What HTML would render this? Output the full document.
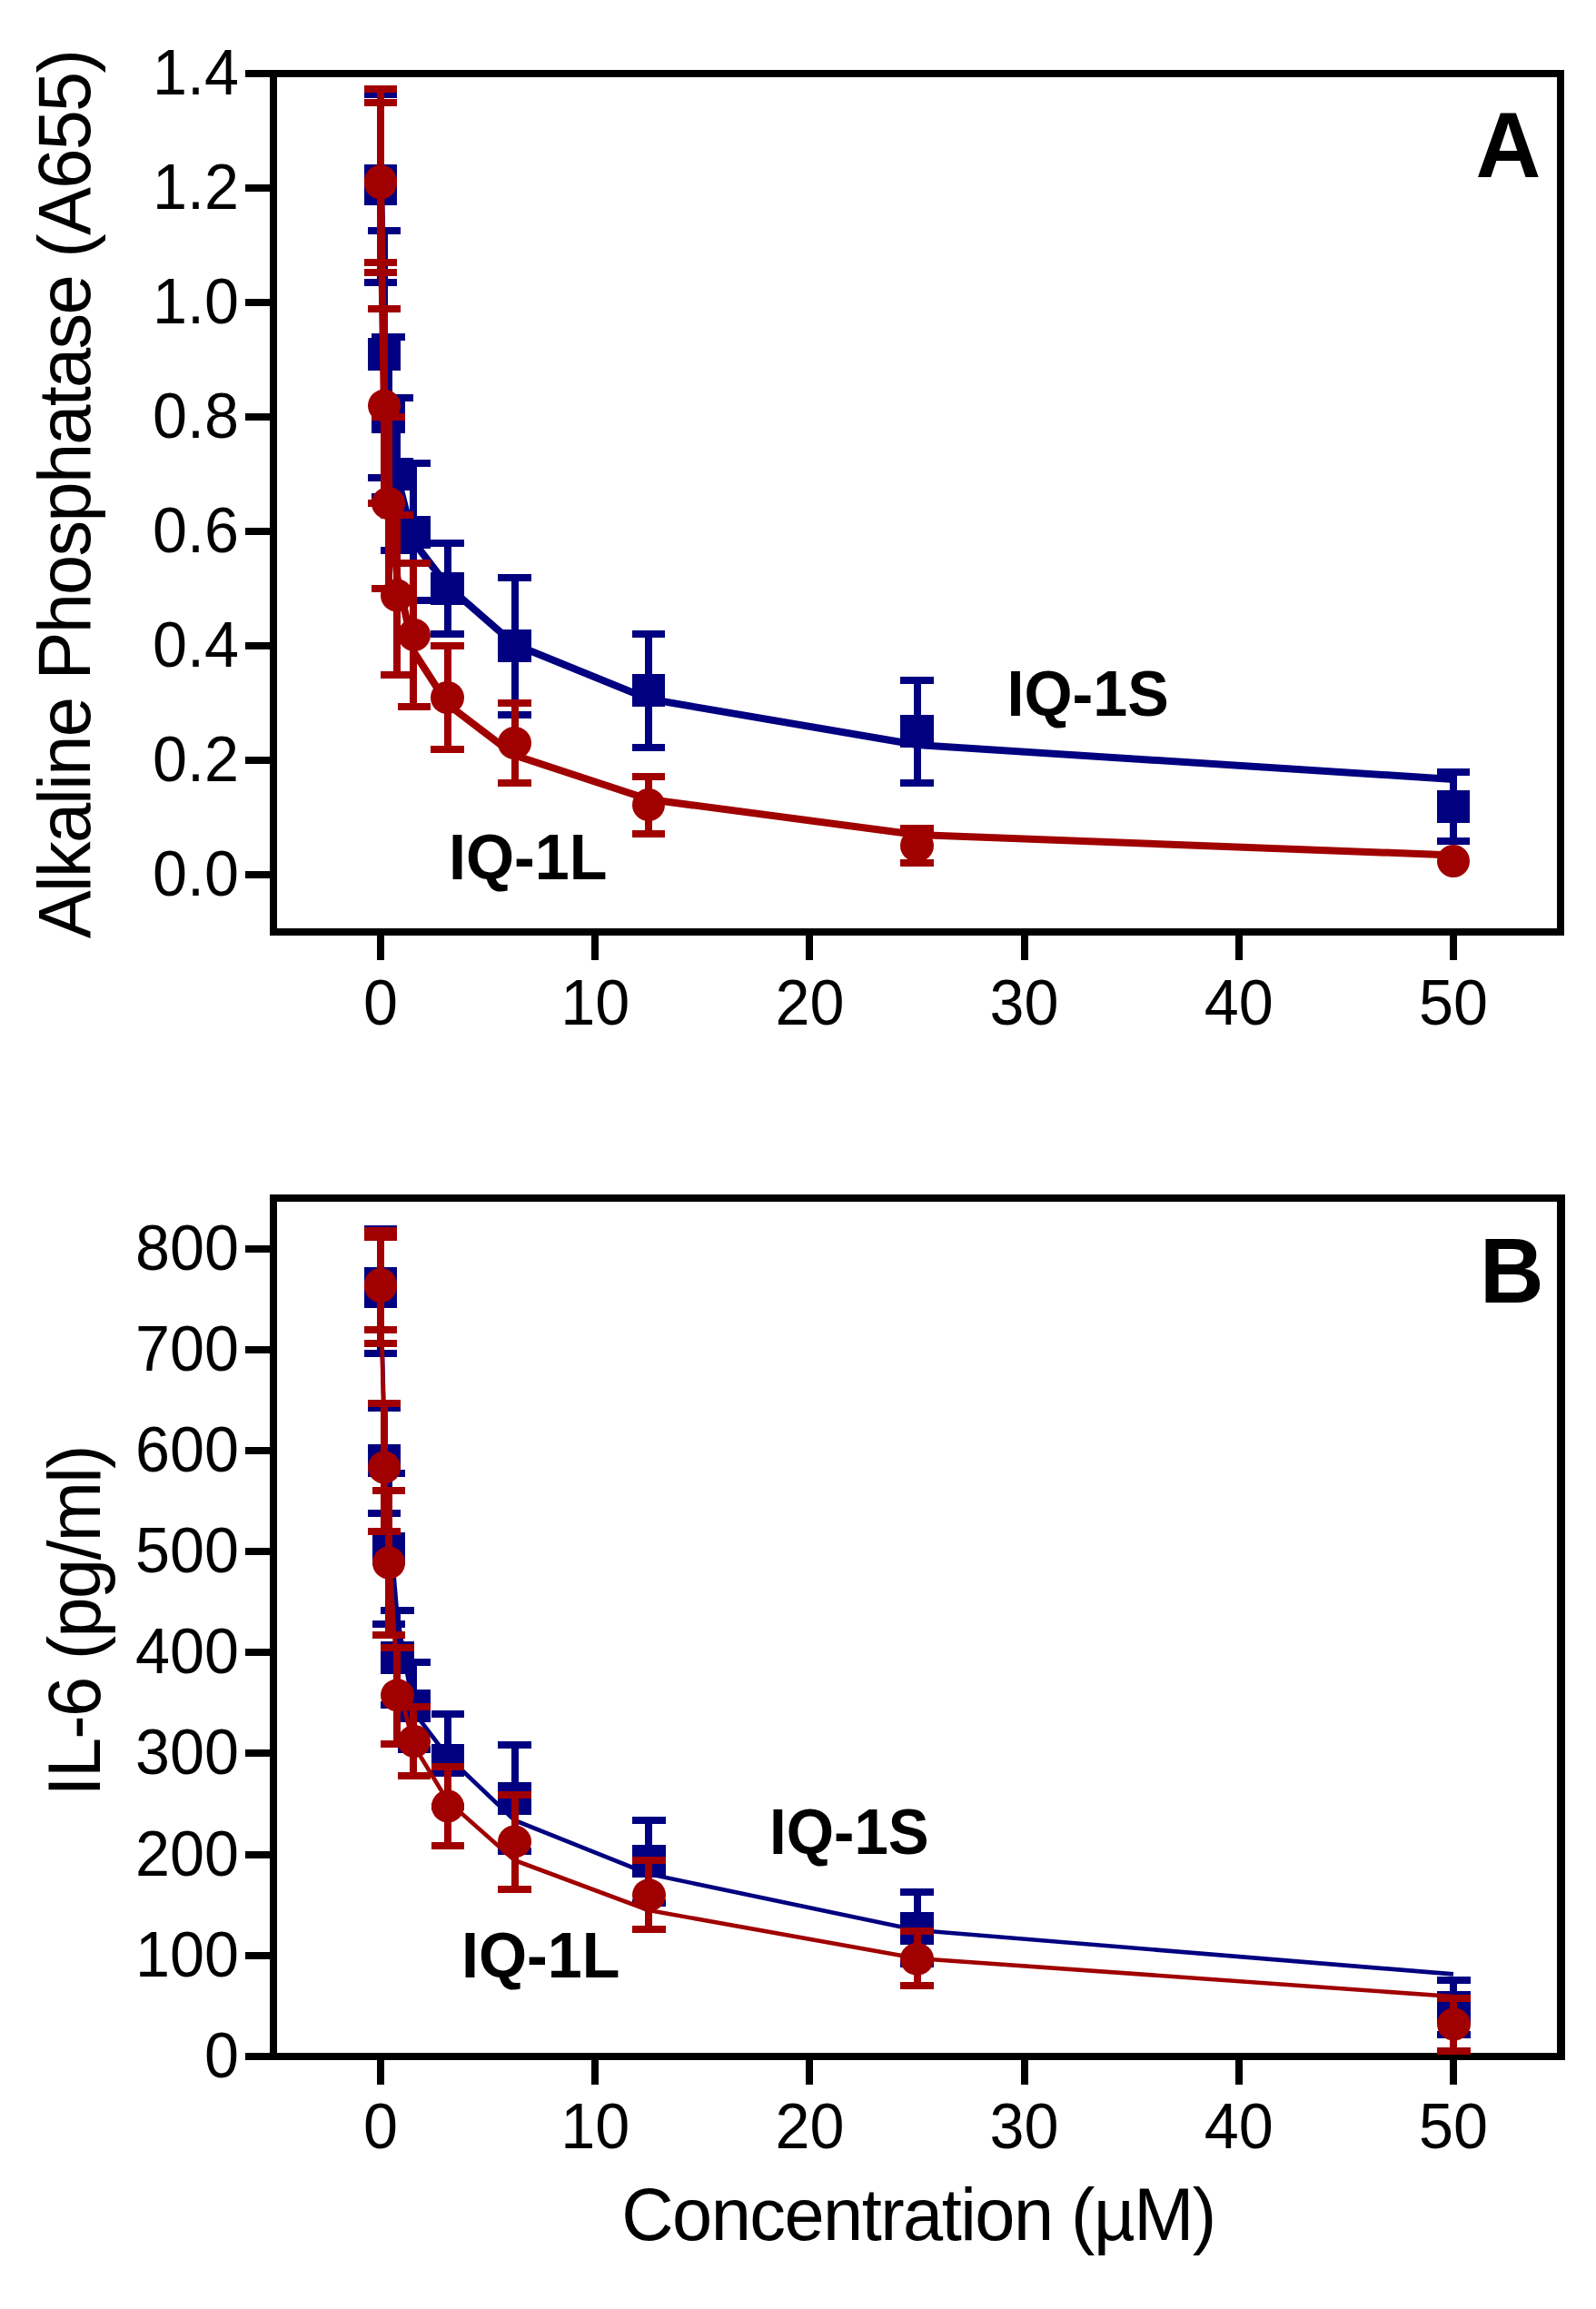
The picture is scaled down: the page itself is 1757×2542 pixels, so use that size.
<!DOCTYPE html>
<html lang="en"><head><meta charset="utf-8"><title>IQ-1S / IQ-1L dose response</title>
<style>
html,body{margin:0;padding:0;background:#fff;}
body{width:1757px;height:2542px;overflow:hidden;}
svg{display:block;}
text{fill:#000;}
</style></head><body>
<svg width="1757" height="2542" viewBox="0 0 1757 2542" shape-rendering="crispEdges">
<rect x="0" y="0" width="1757" height="2542" fill="#fff"/>
<g id="panelA">
<rect x="297" y="77" width="1425" height="8" fill="#000"/>
<rect x="297" y="1022" width="1425" height="8" fill="#000"/>
<rect x="297" y="77" width="8" height="953" fill="#000"/>
<rect x="1714" y="77" width="8" height="953" fill="#000"/>
<rect x="270" y="959" width="31" height="8" fill="#000"/>
<text transform="translate(263,986.3) scale(1,1.04)" text-anchor="end" font-size="68.3" font-family="'Liberation Sans', sans-serif">0.0</text>
<rect x="270" y="833" width="31" height="8" fill="#000"/>
<text transform="translate(263,860.3) scale(1,1.04)" text-anchor="end" font-size="68.3" font-family="'Liberation Sans', sans-serif">0.2</text>
<rect x="270" y="707" width="31" height="8" fill="#000"/>
<text transform="translate(263,734.3) scale(1,1.04)" text-anchor="end" font-size="68.3" font-family="'Liberation Sans', sans-serif">0.4</text>
<rect x="270" y="581" width="31" height="8" fill="#000"/>
<text transform="translate(263,608.3) scale(1,1.04)" text-anchor="end" font-size="68.3" font-family="'Liberation Sans', sans-serif">0.6</text>
<rect x="270" y="455" width="31" height="8" fill="#000"/>
<text transform="translate(263,482.3) scale(1,1.04)" text-anchor="end" font-size="68.3" font-family="'Liberation Sans', sans-serif">0.8</text>
<rect x="270" y="329" width="31" height="8" fill="#000"/>
<text transform="translate(263,356.3) scale(1,1.04)" text-anchor="end" font-size="68.3" font-family="'Liberation Sans', sans-serif">1.0</text>
<rect x="270" y="203" width="31" height="8" fill="#000"/>
<text transform="translate(263,230.3) scale(1,1.04)" text-anchor="end" font-size="68.3" font-family="'Liberation Sans', sans-serif">1.2</text>
<rect x="270" y="77" width="31" height="8" fill="#000"/>
<text transform="translate(263,104.3) scale(1,1.04)" text-anchor="end" font-size="68.3" font-family="'Liberation Sans', sans-serif">1.4</text>
<rect x="415" y="1026" width="8" height="31" fill="#000"/>
<text transform="translate(419.08,1128) scale(1,1.04)" text-anchor="middle" font-size="68.3" font-family="'Liberation Sans', sans-serif">0</text>
<rect x="651" y="1026" width="8" height="31" fill="#000"/>
<text transform="translate(655.25,1128) scale(1,1.04)" text-anchor="middle" font-size="68.3" font-family="'Liberation Sans', sans-serif">10</text>
<rect x="887" y="1026" width="8" height="31" fill="#000"/>
<text transform="translate(891.42,1128) scale(1,1.04)" text-anchor="middle" font-size="68.3" font-family="'Liberation Sans', sans-serif">20</text>
<rect x="1124" y="1026" width="8" height="31" fill="#000"/>
<text transform="translate(1127.59,1128) scale(1,1.04)" text-anchor="middle" font-size="68.3" font-family="'Liberation Sans', sans-serif">30</text>
<rect x="1360" y="1026" width="8" height="31" fill="#000"/>
<text transform="translate(1363.76,1128) scale(1,1.04)" text-anchor="middle" font-size="68.3" font-family="'Liberation Sans', sans-serif">40</text>
<rect x="1596" y="1026" width="8" height="31" fill="#000"/>
<text transform="translate(1599.93,1128) scale(1,1.04)" text-anchor="middle" font-size="68.3" font-family="'Liberation Sans', sans-serif">50</text>
<polyline points="419,205 423.6,400 428.2,465 437.4,525 455.8,597 493,645.5 566.5,709.5 714,769.5 1009.4,820 1600,858" fill="none" stroke="#000080" stroke-width="8" stroke-linejoin="round" stroke-linecap="butt" shape-rendering="auto"/>
<rect x="415" y="104" width="8" height="207" fill="#000080"/>
<rect x="401" y="100" width="36" height="8" fill="#000080"/>
<rect x="401" y="307" width="36" height="8" fill="#000080"/>
<rect x="419" y="254" width="8" height="272" fill="#000080"/>
<rect x="405" y="250" width="36" height="8" fill="#000080"/>
<rect x="405" y="522" width="36" height="8" fill="#000080"/>
<rect x="423.5" y="371" width="8" height="176" fill="#000080"/>
<rect x="409" y="367" width="37" height="8" fill="#000080"/>
<rect x="409" y="543" width="37" height="8" fill="#000080"/>
<rect x="433" y="438" width="8" height="168" fill="#000080"/>
<rect x="419" y="434" width="36" height="8" fill="#000080"/>
<rect x="419" y="602" width="36" height="8" fill="#000080"/>
<rect x="451" y="510" width="8" height="151" fill="#000080"/>
<rect x="438" y="506" width="36" height="8" fill="#000080"/>
<rect x="438" y="657" width="36" height="8" fill="#000080"/>
<rect x="489.25" y="598" width="8" height="100" fill="#000080"/>
<rect x="474" y="594" width="37" height="8" fill="#000080"/>
<rect x="474" y="694" width="37" height="8" fill="#000080"/>
<rect x="562.5" y="636" width="8" height="151" fill="#000080"/>
<rect x="548" y="632" width="37" height="8" fill="#000080"/>
<rect x="548" y="783" width="37" height="8" fill="#000080"/>
<rect x="710" y="698" width="8" height="125" fill="#000080"/>
<rect x="696" y="694" width="36" height="8" fill="#000080"/>
<rect x="696" y="819" width="36" height="8" fill="#000080"/>
<rect x="1005.5" y="748.5" width="8" height="113.5" fill="#000080"/>
<rect x="991" y="744.5" width="37" height="8" fill="#000080"/>
<rect x="991" y="858" width="37" height="8" fill="#000080"/>
<rect x="1596" y="850" width="8" height="76" fill="#000080"/>
<rect x="1582" y="846" width="36" height="8" fill="#000080"/>
<rect x="1582" y="922" width="36" height="8" fill="#000080"/>
<rect x="401" y="190" width="36" height="36" fill="#000080"/>
<rect x="405" y="372" width="36" height="36" fill="#000080"/>
<rect x="409" y="441" width="37" height="36" fill="#000080"/>
<rect x="419" y="504" width="36" height="36" fill="#000080"/>
<rect x="438" y="567.5" width="36" height="36" fill="#000080"/>
<rect x="474" y="630" width="37" height="36" fill="#000080"/>
<rect x="548" y="693" width="37" height="36" fill="#000080"/>
<rect x="696" y="742" width="36" height="36" fill="#000080"/>
<rect x="991" y="787" width="37" height="36" fill="#000080"/>
<rect x="1582" y="870" width="36" height="36" fill="#000080"/>
<rect x="401" y="181" width="36" height="36" fill="#000080"/>
<polyline points="419,200 423.6,495 428.2,548 437.4,636 455.8,718 493,775.5 566.5,831.5 714,880 1009.4,919 1600,941.5" fill="none" stroke="#A00000" stroke-width="8" stroke-linejoin="round" stroke-linecap="butt" shape-rendering="auto"/>
<rect x="415" y="98" width="8" height="202" fill="#A00000"/>
<rect x="401" y="94" width="36" height="8" fill="#A00000"/>
<rect x="401" y="296" width="36" height="8" fill="#A00000"/>
<rect x="419" y="340" width="8" height="214" fill="#A00000"/>
<rect x="405" y="336" width="36" height="8" fill="#A00000"/>
<rect x="405" y="550" width="36" height="8" fill="#A00000"/>
<rect x="423.5" y="459" width="8" height="189" fill="#A00000"/>
<rect x="409" y="455" width="37" height="8" fill="#A00000"/>
<rect x="409" y="644" width="37" height="8" fill="#A00000"/>
<rect x="433" y="567" width="8" height="176" fill="#A00000"/>
<rect x="419" y="563" width="36" height="8" fill="#A00000"/>
<rect x="419" y="739" width="36" height="8" fill="#A00000"/>
<rect x="451" y="620" width="8" height="158" fill="#A00000"/>
<rect x="438" y="616" width="36" height="8" fill="#A00000"/>
<rect x="438" y="774" width="36" height="8" fill="#A00000"/>
<rect x="489.25" y="711" width="8" height="114" fill="#A00000"/>
<rect x="474" y="707" width="37" height="8" fill="#A00000"/>
<rect x="474" y="821" width="37" height="8" fill="#A00000"/>
<rect x="562.5" y="774" width="8" height="88" fill="#A00000"/>
<rect x="548" y="770" width="37" height="8" fill="#A00000"/>
<rect x="548" y="858" width="37" height="8" fill="#A00000"/>
<rect x="710" y="855" width="8" height="63" fill="#A00000"/>
<rect x="696" y="851" width="36" height="8" fill="#A00000"/>
<rect x="696" y="914" width="36" height="8" fill="#A00000"/>
<rect x="1005.5" y="912" width="8" height="38" fill="#A00000"/>
<rect x="991" y="908" width="37" height="8" fill="#A00000"/>
<rect x="991" y="946" width="37" height="8" fill="#A00000"/>
<rect x="401" y="109" width="36" height="8" fill="#A00000"/>
<rect x="401" y="285" width="36" height="8" fill="#A00000"/>
<ellipse cx="419" cy="200.5" rx="18" ry="18" fill="#A00000" shape-rendering="auto"/>
<ellipse cx="423" cy="446.6" rx="18" ry="18" fill="#A00000" shape-rendering="auto"/>
<ellipse cx="427.5" cy="554" rx="18.5" ry="18" fill="#A00000" shape-rendering="auto"/>
<ellipse cx="437" cy="655.5" rx="18" ry="18" fill="#A00000" shape-rendering="auto"/>
<ellipse cx="456" cy="699" rx="18" ry="18" fill="#A00000" shape-rendering="auto"/>
<ellipse cx="492.5" cy="768" rx="18.5" ry="18" fill="#A00000" shape-rendering="auto"/>
<ellipse cx="566.5" cy="818" rx="18.5" ry="18" fill="#A00000" shape-rendering="auto"/>
<ellipse cx="714" cy="886" rx="18" ry="18" fill="#A00000" shape-rendering="auto"/>
<ellipse cx="1009.5" cy="931" rx="18.5" ry="18" fill="#A00000" shape-rendering="auto"/>
<ellipse cx="1600" cy="948" rx="18" ry="18" fill="#A00000" shape-rendering="auto"/>
<ellipse cx="419" cy="199.5" rx="18" ry="18" fill="#A00000" shape-rendering="auto"/>
<ellipse cx="419" cy="201.5" rx="18" ry="18" fill="#A00000" shape-rendering="auto"/>
</g>
<g id="panelB">
<rect x="297" y="1315" width="1426" height="8" fill="#000"/>
<rect x="297" y="2260" width="1426" height="8" fill="#000"/>
<rect x="297" y="1315" width="8" height="953" fill="#000"/>
<rect x="1714" y="1315" width="9" height="953" fill="#000"/>
<rect x="270" y="2260" width="31" height="8" fill="#000"/>
<text transform="translate(263,2287) scale(1,1.04)" text-anchor="end" font-size="68.3" font-family="'Liberation Sans', sans-serif">0</text>
<rect x="270" y="2148.82" width="31" height="8" fill="#000"/>
<text transform="translate(263,2175.82) scale(1,1.04)" text-anchor="end" font-size="68.3" font-family="'Liberation Sans', sans-serif">100</text>
<rect x="270" y="2037.64" width="31" height="8" fill="#000"/>
<text transform="translate(263,2064.64) scale(1,1.04)" text-anchor="end" font-size="68.3" font-family="'Liberation Sans', sans-serif">200</text>
<rect x="270" y="1926.46" width="31" height="8" fill="#000"/>
<text transform="translate(263,1953.46) scale(1,1.04)" text-anchor="end" font-size="68.3" font-family="'Liberation Sans', sans-serif">300</text>
<rect x="270" y="1815.28" width="31" height="8" fill="#000"/>
<text transform="translate(263,1842.28) scale(1,1.04)" text-anchor="end" font-size="68.3" font-family="'Liberation Sans', sans-serif">400</text>
<rect x="270" y="1704.1" width="31" height="8" fill="#000"/>
<text transform="translate(263,1731.1) scale(1,1.04)" text-anchor="end" font-size="68.3" font-family="'Liberation Sans', sans-serif">500</text>
<rect x="270" y="1592.92" width="31" height="8" fill="#000"/>
<text transform="translate(263,1619.92) scale(1,1.04)" text-anchor="end" font-size="68.3" font-family="'Liberation Sans', sans-serif">600</text>
<rect x="270" y="1481.74" width="31" height="8" fill="#000"/>
<text transform="translate(263,1508.74) scale(1,1.04)" text-anchor="end" font-size="68.3" font-family="'Liberation Sans', sans-serif">700</text>
<rect x="270" y="1370.56" width="31" height="8" fill="#000"/>
<text transform="translate(263,1397.56) scale(1,1.04)" text-anchor="end" font-size="68.3" font-family="'Liberation Sans', sans-serif">800</text>
<rect x="415" y="2264" width="8" height="31" fill="#000"/>
<text transform="translate(419.08,2365) scale(1,1.04)" text-anchor="middle" font-size="68.3" font-family="'Liberation Sans', sans-serif">0</text>
<rect x="651" y="2264" width="8" height="31" fill="#000"/>
<text transform="translate(655.25,2365) scale(1,1.04)" text-anchor="middle" font-size="68.3" font-family="'Liberation Sans', sans-serif">10</text>
<rect x="887" y="2264" width="8" height="31" fill="#000"/>
<text transform="translate(891.42,2365) scale(1,1.04)" text-anchor="middle" font-size="68.3" font-family="'Liberation Sans', sans-serif">20</text>
<rect x="1124" y="2264" width="8" height="31" fill="#000"/>
<text transform="translate(1127.59,2365) scale(1,1.04)" text-anchor="middle" font-size="68.3" font-family="'Liberation Sans', sans-serif">30</text>
<rect x="1360" y="2264" width="8" height="31" fill="#000"/>
<text transform="translate(1363.76,2365) scale(1,1.04)" text-anchor="middle" font-size="68.3" font-family="'Liberation Sans', sans-serif">40</text>
<rect x="1596" y="2264" width="8" height="31" fill="#000"/>
<text transform="translate(1599.93,2365) scale(1,1.04)" text-anchor="middle" font-size="68.3" font-family="'Liberation Sans', sans-serif">50</text>
<polyline points="419,1418 423.6,1590 428.2,1669 437.4,1780 455.8,1885 493,1934 566.5,2004 714,2063 1009.4,2125 1600,2173.4" fill="none" stroke="#000080" stroke-width="4.6" stroke-linejoin="round" stroke-linecap="butt" shape-rendering="auto"/>
<rect x="415" y="1353" width="8" height="137" fill="#000080"/>
<rect x="401" y="1349" width="36" height="8" fill="#000080"/>
<rect x="401" y="1486" width="36" height="8" fill="#000080"/>
<rect x="419" y="1550" width="8" height="116" fill="#000080"/>
<rect x="405" y="1546" width="36" height="8" fill="#000080"/>
<rect x="405" y="1662" width="36" height="8" fill="#000080"/>
<rect x="423.5" y="1622" width="8" height="166" fill="#000080"/>
<rect x="410" y="1618" width="36" height="8" fill="#000080"/>
<rect x="410" y="1784" width="36" height="8" fill="#000080"/>
<rect x="433" y="1773" width="8" height="104" fill="#000080"/>
<rect x="419" y="1769" width="37" height="8" fill="#000080"/>
<rect x="419" y="1873" width="37" height="8" fill="#000080"/>
<rect x="451" y="1830" width="8" height="96" fill="#000080"/>
<rect x="438" y="1826" width="36" height="8" fill="#000080"/>
<rect x="438" y="1922" width="36" height="8" fill="#000080"/>
<rect x="489.25" y="1887" width="8" height="102" fill="#000080"/>
<rect x="475" y="1883" width="36" height="8" fill="#000080"/>
<rect x="475" y="1985" width="36" height="8" fill="#000080"/>
<rect x="562.5" y="1921" width="8" height="117" fill="#000080"/>
<rect x="548" y="1917" width="37" height="8" fill="#000080"/>
<rect x="548" y="2034" width="37" height="8" fill="#000080"/>
<rect x="710" y="2004.3" width="8" height="90.7" fill="#000080"/>
<rect x="696" y="2000.3" width="37" height="8" fill="#000080"/>
<rect x="696" y="2091" width="37" height="8" fill="#000080"/>
<rect x="1005.5" y="2083" width="8" height="79" fill="#000080"/>
<rect x="991" y="2079" width="37" height="8" fill="#000080"/>
<rect x="991" y="2158" width="37" height="8" fill="#000080"/>
<rect x="1596" y="2180" width="8" height="60" fill="#000080"/>
<rect x="1582" y="2176" width="37" height="8" fill="#000080"/>
<rect x="1582" y="2236" width="37" height="8" fill="#000080"/>
<rect x="401" y="1404" width="36" height="36" fill="#000080"/>
<rect x="405" y="1590" width="36" height="36" fill="#000080"/>
<rect x="410" y="1687" width="36" height="36" fill="#000080"/>
<rect x="419" y="1807" width="37" height="36" fill="#000080"/>
<rect x="438" y="1860" width="36" height="36" fill="#000080"/>
<rect x="475" y="1920" width="36" height="36" fill="#000080"/>
<rect x="548" y="1961.5" width="37" height="36" fill="#000080"/>
<rect x="696" y="2031.4" width="37" height="36" fill="#000080"/>
<rect x="991" y="2104.6" width="37" height="36" fill="#000080"/>
<rect x="1582" y="2192" width="37" height="36" fill="#000080"/>
<rect x="401" y="1395" width="36" height="36" fill="#000080"/>
<polyline points="419,1415 423.6,1612 428.2,1700 437.4,1852 455.8,1922 493,1983 566.5,2048 714,2103 1009.4,2156 1600,2198" fill="none" stroke="#A00000" stroke-width="4.6" stroke-linejoin="round" stroke-linecap="butt" shape-rendering="auto"/>
<rect x="415" y="1355" width="8" height="124" fill="#A00000"/>
<rect x="401" y="1351" width="36" height="8" fill="#A00000"/>
<rect x="401" y="1475" width="36" height="8" fill="#A00000"/>
<rect x="419" y="1545" width="8" height="141" fill="#A00000"/>
<rect x="405" y="1541" width="36" height="8" fill="#A00000"/>
<rect x="405" y="1682" width="36" height="8" fill="#A00000"/>
<rect x="423.5" y="1641" width="8" height="158.5" fill="#A00000"/>
<rect x="410" y="1637" width="36" height="8" fill="#A00000"/>
<rect x="410" y="1795.5" width="36" height="8" fill="#A00000"/>
<rect x="433" y="1814" width="8" height="106" fill="#A00000"/>
<rect x="419" y="1810" width="37" height="8" fill="#A00000"/>
<rect x="419" y="1916" width="37" height="8" fill="#A00000"/>
<rect x="451" y="1879" width="8" height="76" fill="#A00000"/>
<rect x="438" y="1875" width="36" height="8" fill="#A00000"/>
<rect x="438" y="1951" width="36" height="8" fill="#A00000"/>
<rect x="489.25" y="1945" width="8" height="87" fill="#A00000"/>
<rect x="475" y="1941" width="36" height="8" fill="#A00000"/>
<rect x="475" y="2028" width="36" height="8" fill="#A00000"/>
<rect x="562.5" y="1976" width="8" height="104" fill="#A00000"/>
<rect x="548" y="1972" width="37" height="8" fill="#A00000"/>
<rect x="548" y="2076" width="37" height="8" fill="#A00000"/>
<rect x="710" y="2048" width="8" height="76" fill="#A00000"/>
<rect x="696" y="2044" width="37" height="8" fill="#A00000"/>
<rect x="696" y="2120" width="37" height="8" fill="#A00000"/>
<rect x="1005.5" y="2126" width="8" height="60" fill="#A00000"/>
<rect x="991" y="2122" width="37" height="8" fill="#A00000"/>
<rect x="991" y="2182" width="37" height="8" fill="#A00000"/>
<rect x="1596" y="2200" width="8" height="58" fill="#A00000"/>
<rect x="1582" y="2196" width="37" height="8" fill="#A00000"/>
<rect x="1582" y="2254" width="37" height="8" fill="#A00000"/>
<rect x="401" y="1358" width="36" height="8" fill="#A00000"/>
<rect x="401" y="1460" width="36" height="8" fill="#A00000"/>
<ellipse cx="419" cy="1415" rx="18" ry="18" fill="#A00000" shape-rendering="auto"/>
<ellipse cx="423" cy="1615.5" rx="18" ry="18" fill="#A00000" shape-rendering="auto"/>
<ellipse cx="428" cy="1720.5" rx="18" ry="18" fill="#A00000" shape-rendering="auto"/>
<ellipse cx="437.5" cy="1866.3" rx="18.5" ry="18" fill="#A00000" shape-rendering="auto"/>
<ellipse cx="456" cy="1917" rx="18" ry="18" fill="#A00000" shape-rendering="auto"/>
<ellipse cx="493" cy="1988.5" rx="18" ry="18" fill="#A00000" shape-rendering="auto"/>
<ellipse cx="566.5" cy="2027.4" rx="18.5" ry="18" fill="#A00000" shape-rendering="auto"/>
<ellipse cx="714.5" cy="2086.3" rx="18.5" ry="18" fill="#A00000" shape-rendering="auto"/>
<ellipse cx="1009.5" cy="2156.7" rx="18.5" ry="18" fill="#A00000" shape-rendering="auto"/>
<ellipse cx="1600.5" cy="2228.5" rx="18.5" ry="18" fill="#A00000" shape-rendering="auto"/>
<ellipse cx="419" cy="1414" rx="18" ry="18" fill="#A00000" shape-rendering="auto"/>
<ellipse cx="419" cy="1416" rx="18" ry="18" fill="#A00000" shape-rendering="auto"/>
</g>
<g id="labels">
<text transform="translate(1108.5,788.2) scale(1,1.04)" font-size="68.3" font-weight="bold" font-family="'Liberation Sans', sans-serif">IQ-1S</text>
<text transform="translate(494,968) scale(1,1.04)" font-size="68.3" font-weight="bold" font-family="'Liberation Sans', sans-serif">IQ-1L</text>
<text transform="translate(847,2041) scale(0.985,1.04)" font-size="68.3" font-weight="bold" font-family="'Liberation Sans', sans-serif">IQ-1S</text>
<text transform="translate(508,2177) scale(1,1.04)" font-size="68.3" font-weight="bold" font-family="'Liberation Sans', sans-serif">IQ-1L</text>
<text id="lblA" transform="translate(1624.6,195) scale(0.975,1)" font-size="102" font-weight="bold" font-family="'Liberation Sans', sans-serif">A</text>
<text id="lblB" transform="translate(1629,1434) scale(1,1.035)" font-size="97.8" font-weight="bold" font-family="'Liberation Sans', sans-serif">B</text>
<text id="ylabA" transform="translate(99.2,1033.2) rotate(-90) scale(1,1.02)" font-size="79.4" letter-spacing="-1.72" font-family="'Liberation Sans', sans-serif">Alkaline Phosphatase (A655)</text>
<text id="ylabB" transform="translate(109.8,1977.4) rotate(-90) scale(1,1.02)" font-size="79.4" letter-spacing="-1.72" font-family="'Liberation Sans', sans-serif">IL-6 (pg/ml)</text>
<text id="xlab" transform="translate(684.2,2466) scale(1,1.02)" font-size="79.4" letter-spacing="-1.53" font-family="'Liberation Sans', sans-serif">Concentration (µM)</text>
</g>
</svg></body></html>
